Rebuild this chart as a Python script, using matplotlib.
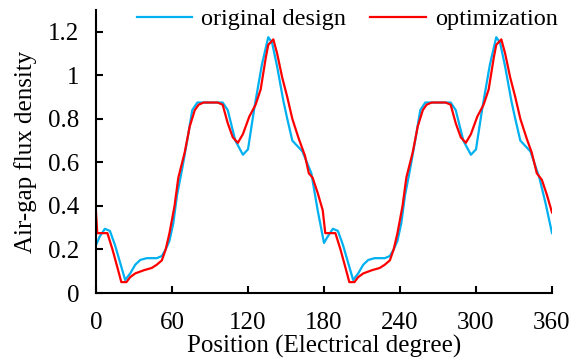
import matplotlib
matplotlib.use("Agg")
import matplotlib.pyplot as plt

# === DATA ===
orig_x = [0, 3, 7, 11, 15, 19, 23, 27, 31, 35, 40, 48, 52, 55, 58, 61, 64, 68, 72, 76,
          80, 100, 104, 110, 116, 120, 125, 131, 136, 139, 143, 148, 151, 155, 163, 170, 175,
          180, 183, 187, 191, 195, 199, 203, 207, 211, 215, 220, 228, 232, 235, 238, 241, 244,
          248, 252, 256, 260, 280, 284, 290, 296, 300, 305, 311, 316, 319, 323, 328, 331, 335,
          343, 350, 355, 360]
orig_y = [0.22, 0.26, 0.295, 0.285, 0.22, 0.14, 0.06, 0.09, 0.13, 0.152, 0.16, 0.16, 0.17,
          0.20, 0.24, 0.32, 0.45, 0.57, 0.70, 0.84, 0.875, 0.875, 0.84, 0.70, 0.635, 0.66,
          0.85, 1.05, 1.175, 1.15, 1.04, 0.88, 0.80, 0.70, 0.65, 0.55, 0.38,
          0.23, 0.26, 0.295, 0.285, 0.22, 0.14, 0.06, 0.09, 0.13, 0.152, 0.16, 0.16, 0.17,
          0.20, 0.24, 0.32, 0.45, 0.57, 0.70, 0.84, 0.875, 0.875, 0.84, 0.70, 0.635, 0.66,
          0.85, 1.05, 1.175, 1.15, 1.04, 0.88, 0.80, 0.70, 0.65, 0.53, 0.41, 0.275]

opt_x = [0, 1, 9, 13, 17, 20, 24, 27, 31, 38, 44, 48, 52, 55, 58, 62, 65, 70, 74, 78, 81,
         85, 96, 100, 104, 108, 112, 116, 121, 126, 130, 134, 136, 140, 143, 147, 151, 155,
         160, 165, 168, 171, 175, 179,
         181, 189, 193, 197, 200, 204, 207, 211, 218, 224, 228, 232, 235, 238, 242, 245, 250,
         254, 258, 261, 265, 276, 280, 284, 288, 292, 296, 301, 306, 310, 314, 316, 320, 323,
         327, 331, 335, 340, 344, 348, 352, 356, 360]
opt_y = [0.37, 0.275, 0.275, 0.20, 0.115, 0.05, 0.05, 0.073, 0.09, 0.105, 0.115, 0.13, 0.15,
         0.20, 0.275, 0.40, 0.53, 0.645, 0.765, 0.84, 0.865, 0.875, 0.875, 0.865, 0.78, 0.715,
         0.69, 0.73, 0.81, 0.865, 0.935, 1.08, 1.14, 1.165, 1.10, 0.99, 0.90, 0.80, 0.71,
         0.63, 0.55, 0.53, 0.46, 0.38,
         0.275, 0.275, 0.20, 0.115, 0.05, 0.05, 0.073, 0.09, 0.105, 0.115, 0.13, 0.15, 0.20,
         0.275, 0.40, 0.53, 0.645, 0.765, 0.84, 0.865, 0.875, 0.875, 0.865, 0.78, 0.715, 0.69,
         0.73, 0.81, 0.865, 0.935, 1.08, 1.14, 1.165, 1.10, 0.99, 0.90, 0.80, 0.71, 0.645,
         0.55, 0.52, 0.45, 0.37]

x_ticks = [0, 60, 120, 180, 240, 300, 360]
y_ticks = [0, 0.2, 0.4, 0.6, 0.8, 1.0, 1.2]
y_tick_labels = ["0", "0.2", "0.4", "0.6", "0.8", "1", "1.2"]

# === STYLE ===
plt.rcParams['font.family'] = ['Liberation Serif', 'DejaVu Serif']
plt.rcParams['font.size'] = 18

fig = plt.figure(figsize=(5.74, 3.59), dpi=100)
ax = fig.add_axes([96 / 574, 1 - 293 / 359, 456 / 574, 283 / 359])

ax.plot(orig_x, orig_y, color='#00B0F0', lw=1.6, label='original design')
ax.plot(opt_x, opt_y, color='#FF0000', lw=1.6, label='optimization')

ax.set_xlim(0, 360)
ax.set_ylim(0, 1.3)
ax.set_xticks(x_ticks)
ax.set_yticks(y_ticks)
ax.set_yticklabels(y_tick_labels)

ax.spines['top'].set_visible(False)
ax.spines['right'].set_visible(False)
for s in ('left', 'bottom'):
    ax.spines[s].set_linewidth(1.5)
    ax.spines[s].set_color('black')

ax.tick_params(direction='in', length=5, width=1.5, colors='black')
ax.tick_params(axis='y', pad=12)
ax.tick_params(axis='x', pad=14)

ax.set_xlabel('Position (Electrical degree)')
ax.xaxis.set_label_coords(0.5, -0.148)
ax.set_ylabel('Air-gap flux density', labelpad=8)

fig.legend(loc='center', bbox_to_anchor=(347 / 574, 1 - 19 / 359), ncol=2,
           frameon=False, handlelength=2.3, columnspacing=1.0, handletextpad=0.35,
           fontsize=17.5)

fig.savefig('out.png', dpi=100)
